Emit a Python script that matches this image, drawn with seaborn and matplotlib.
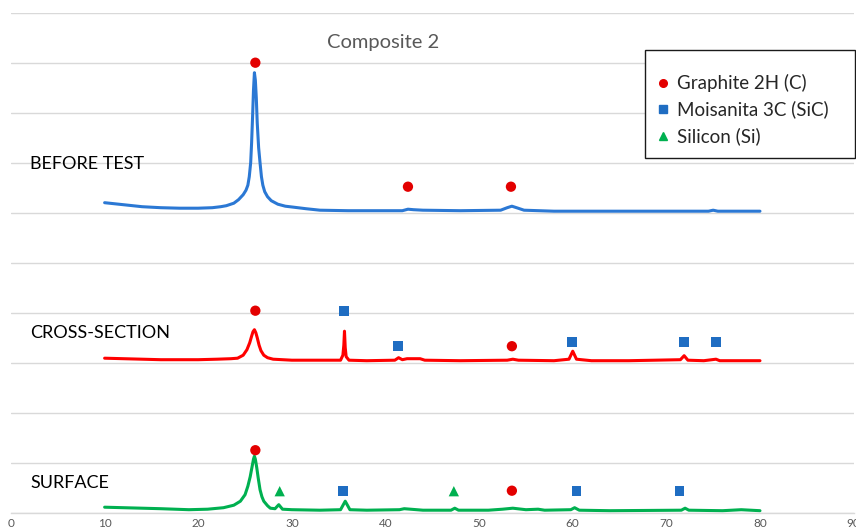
import matplotlib
matplotlib.use("Agg")
import matplotlib.pyplot as plt
from matplotlib.lines import Line2D
from matplotlib.patches import Rectangle
import seaborn as sns
import pandas as pd

# --- XRD traces (2-theta, stacked intensity in arbitrary units) ---
before_x = [10, 12, 14, 16, 18, 20, 21.5, 22.4, 23.0, 23.8, 24.3, 24.8, 25.1, 25.3, 25.45,
            25.6, 25.7, 25.8, 25.9, 26.0, 26.1, 26.2, 26.3, 26.45, 26.6, 26.75, 26.9, 27.1,
            27.4, 27.8, 28.5, 29.3, 30.2, 31.5, 33, 36, 40, 41.8, 42.4, 43.0, 44, 48, 52.3,
            53.0, 53.5, 54.0, 54.8, 58, 62, 66, 70, 74.5, 75.0, 75.5, 78, 80]
before_y = [6.20, 6.16, 6.12, 6.10, 6.09, 6.09, 6.10, 6.12, 6.14, 6.19, 6.26, 6.36, 6.45, 6.55, 6.72,
            7.00, 7.40, 7.90, 8.45, 8.80, 8.65, 8.30, 7.80, 7.30, 7.00, 6.72, 6.55, 6.42,
            6.32, 6.24, 6.17, 6.13, 6.11, 6.08, 6.05, 6.04, 6.04, 6.04, 6.07, 6.06, 6.05, 6.04, 6.05,
            6.10, 6.13, 6.10, 6.05, 6.03, 6.03, 6.03, 6.03, 6.03, 6.05, 6.03, 6.03, 6.03]

cross_x = [10, 12, 14, 16, 18, 20, 22, 23.5, 24.2, 24.8, 25.2, 25.5, 25.7, 25.85, 26.0, 26.15,
           26.3, 26.5, 26.7, 27.0, 27.4, 28.0, 30, 33, 35.2, 35.45, 35.55, 35.62, 35.7, 35.8,
           36.1, 38, 41.0, 41.4, 41.8, 42.3, 43.7, 44.2, 48, 53.0, 53.6, 54.2, 58, 59.6, 60.0,
           60.4, 62, 66, 71.5, 71.9, 72.3, 74, 75.3, 75.7, 78, 80]
cross_y = [3.09, 3.08, 3.07, 3.06, 3.06, 3.06, 3.07, 3.08, 3.09, 3.15, 3.26, 3.40, 3.53, 3.62, 3.66, 3.60,
           3.50, 3.35, 3.24, 3.15, 3.10, 3.07, 3.05, 3.05, 3.05, 3.15, 3.35, 3.63, 3.30, 3.12,
           3.05, 3.04, 3.05, 3.10, 3.06, 3.08, 3.08, 3.05, 3.04, 3.05, 3.07, 3.05, 3.04, 3.07, 3.23,
           3.07, 3.04, 3.04, 3.06, 3.14, 3.05, 3.04, 3.07, 3.04, 3.04, 3.04]

surface_x = [10, 12, 14, 16, 19, 21, 22.7, 23.8, 24.5, 25.0, 25.3, 25.55, 25.75, 25.9, 26.0,
             26.1, 26.25, 26.4, 26.6, 26.8, 27.0, 27.4, 27.7, 28.2, 28.6, 29.0, 30, 33, 35.2,
             35.7, 36.2, 38, 41.5, 42.0, 44, 47.0, 47.4, 47.8, 51, 52.5, 53.6, 55, 56.3, 57,
             59.8, 60.2, 60.7, 64, 71.6, 72.0, 72.4, 76, 78, 80]
surface_y = [0.11, 0.10, 0.09, 0.08, 0.06, 0.07, 0.10, 0.15, 0.23, 0.36, 0.53, 0.72, 0.92, 1.07, 1.13,
             1.07, 0.90, 0.70, 0.46, 0.32, 0.23, 0.14, 0.09, 0.08, 0.16, 0.07, 0.06, 0.05, 0.06,
             0.23, 0.06, 0.05, 0.06, 0.08, 0.05, 0.05, 0.09, 0.05, 0.05, 0.07, 0.09, 0.06, 0.07,
             0.05, 0.06, 0.10, 0.05, 0.04, 0.05, 0.09, 0.05, 0.04, 0.06, 0.04]

# --- phase identification markers ---
graphite_x = [26.1, 42.4, 53.4, 26.1, 53.5, 26.1, 53.5]
graphite_y = [9.00, 6.52, 6.52, 4.04, 3.33, 1.25, 0.44]
moissanite_x = [35.6, 41.3, 59.95, 71.9, 75.3, 35.5, 60.4, 71.4]
moissanite_y = [4.04, 3.34, 3.41, 3.41, 3.41, 0.44, 0.44, 0.44]
silicon_x = [28.7, 47.3]
silicon_y = [0.43, 0.43]

sample_labels = ["BEFORE TEST", "CROSS-SECTION", "SURFACE"]
sample_label_y = [6.98, 3.60, 0.60]
phase_labels = ["Graphite 2H (C)", "Moisanita 3C (SiC)", "Silicon (Si)"]
x_ticks = [0, 10, 20, 30, 40, 50, 60, 70, 80, 90]
title = "Composite 2"

C_BLUE_LINE = "#2b78d4"
C_RED_LINE = "#ff0000"
C_GREEN_LINE = "#00b050"
C_CIRCLE = "#e30000"
C_SQUARE = "#1f6dc2"
C_TRI = "#00b050"
GRID = "#d9d9d9"
TXT_GRAY = "#595959"

sns.set_theme(style="white")
plt.rcParams["font.family"] = ["Lato", "DejaVu Sans"]

fig = plt.figure(figsize=(8.56, 5.32), dpi=100)
ax = fig.add_axes([11 / 856, 19.3 / 532, 842.6 / 856, 500 / 532])

traces = pd.concat([
    pd.DataFrame({"two_theta": before_x, "intensity": before_y, "sample": "before"}),
    pd.DataFrame({"two_theta": cross_x, "intensity": cross_y, "sample": "cross"}),
    pd.DataFrame({"two_theta": surface_x, "intensity": surface_y, "sample": "surface"}),
])
sns.lineplot(data=traces, x="two_theta", y="intensity", hue="sample", units="sample",
             estimator=None, sort=False, legend=False, linewidth=2.2, ax=ax,
             palette={"before": C_BLUE_LINE, "cross": C_RED_LINE, "surface": C_GREEN_LINE})

sns.scatterplot(x=graphite_x, y=graphite_y, marker="o", s=55, color=C_CIRCLE,
                edgecolor="none", ax=ax, zorder=5)
sns.scatterplot(x=moissanite_x, y=moissanite_y, marker="s", s=50, color=C_SQUARE,
                edgecolor="none", ax=ax, zorder=5)
sns.scatterplot(x=silicon_x, y=silicon_y, marker="^", s=55, color=C_TRI,
                edgecolor="none", ax=ax, zorder=5)

ax.set_xlim(0, 90)
ax.set_ylim(0, 10)
ax.set_yticks(range(0, 11))
ax.set_yticklabels([])
ax.set_xticks(x_ticks)
ax.set_xticklabels([str(t) for t in x_ticks], color=TXT_GRAY, fontsize=8.5)
ax.tick_params(axis="both", length=0, pad=4)
ax.grid(axis="y", color=GRID, linewidth=1)
ax.set_axisbelow(True)
for side in ["left", "right", "top"]:
    ax.spines[side].set_visible(False)
ax.spines["bottom"].set_color(GRID)
ax.spines["bottom"].set_linewidth(1)
ax.set_xlabel("")
ax.set_ylabel("")

for lab, yy in zip(sample_labels, sample_label_y):
    ax.text(2.05, yy, lab, fontsize=13, color="#000000", va="center", ha="left")

ax.text(0.4415, 0.941, title, transform=ax.transAxes, fontsize=14.5, color=TXT_GRAY,
        ha="center", va="center")

# legend box
box_x0, box_w = (645 - 11) / 842.6, 210 / 842.6
box_y0, box_h = (512.7 - 158) / 500, 108 / 500
ax.add_patch(Rectangle((box_x0, box_y0), box_w, box_h, transform=ax.transAxes,
                       facecolor="white", edgecolor="#1a1a1a", linewidth=1,
                       clip_on=False, zorder=6))
handles = [
    Line2D([], [], linestyle="none", marker="o", markersize=5.5, color=C_CIRCLE),
    Line2D([], [], linestyle="none", marker="s", markersize=5.5, color=C_SQUARE),
    Line2D([], [], linestyle="none", marker="^", markersize=5.5, color=C_TRI),
]
leg = ax.legend(handles, phase_labels, loc="upper left", frameon=False,
                bbox_to_anchor=((653.6 - 11) / 842.6, (512.7 - 74) / 500),
                fontsize=13.5, handlelength=1.0, handletextpad=0.25,
                labelspacing=0.46, borderpad=0.0, borderaxespad=0.0)
leg.set_zorder(7)

fig.savefig("out.png", dpi=100)
